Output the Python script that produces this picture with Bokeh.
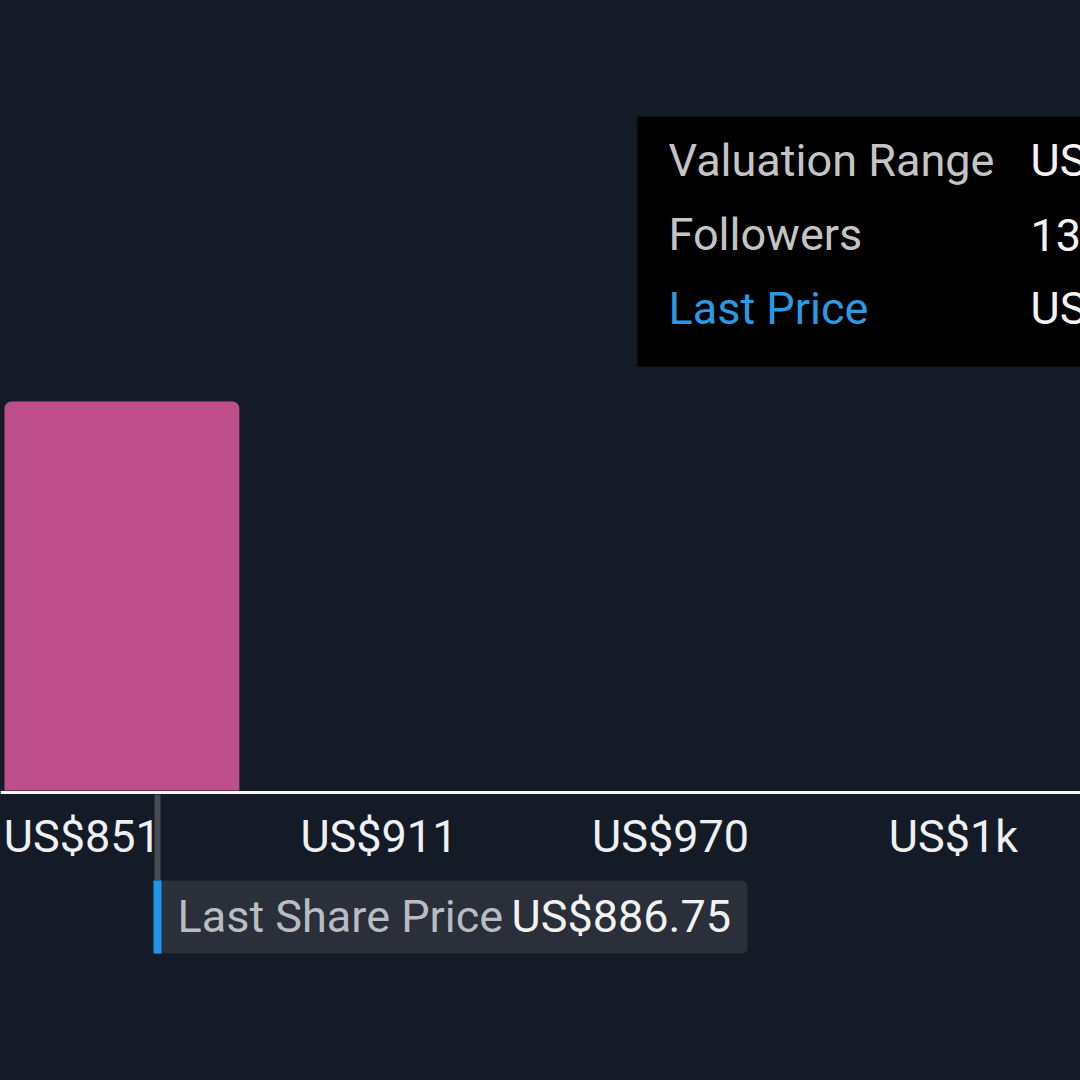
from bokeh.plotting import figure
from bokeh.models import Range1d, Span, LabelSet, ColumnDataSource, GlobalInlineStyleSheet
from bokeh.core.properties import value
from bokeh.embed import file_html
from bokeh.resources import INLINE

# ---- data ----
tick_values = [851, 911, 970, 1030]
tick_labels = ["US$851", "US$911", "US$970", "US$1k"]
bar_left = [855.8]
bar_right = [903.3]
bar_height = [13]
last_price = 886.75
tooltip_labels = ["Valuation Range", "Followers", "Last Price"]
tooltip_values = ["US$855.8 - US$903.3", "13", "US$886.75"]

# ---- layout helpers (reference-pixel -> data) ----
BG = "#151b26"
FONT = value("Roboto")
FS = "45px"
K = 295 / ((tick_values[-1] - tick_values[0]) / 3)   # px per dollar
KY = 389 / bar_height[0]                              # px per unit


def xs(ref):
    return last_price + (ref - 157) / K


def yv(ref):
    return (790 - ref) / KY


p = figure(width=1080, height=1080, output_backend="svg", toolbar_location=None,
           x_axis_type=None, y_axis_type=None,
           x_range=Range1d(xs(0), xs(1080)), y_range=Range1d(yv(1080), yv(0)),
           min_border=0, outline_line_color=None,
           background_fill_color=BG, border_fill_color=BG)
p.stylesheets = [GlobalInlineStyleSheet(
    css="html,body{background-color:#151b26;margin:0;padding:0;overflow:hidden;}")]

# bar
p.quad(left=bar_left, right=bar_right, bottom=0, top=bar_height,
       fill_color="#bd4e89", line_color=None, border_radius=(7, 7, 0, 0))

# axis line
p.add_layout(Span(location=yv(792), dimension="width", line_color="#f4f4f4", line_width=3))

# tick labels
tick_src = ColumnDataSource(dict(x=tick_values, y=[yv(836)] * len(tick_values), text=tick_labels))
p.add_layout(LabelSet(x="x", y="y", text="text", source=tick_src, x_offset=23,
                      text_align="left", text_baseline="middle", text_font=FONT,
                      text_font_size=FS, text_color="#eef0f3"))

# last share price marker
p.segment(x0=[last_price], y0=[yv(794)], x1=[last_price], y1=[yv(880)],
          line_color="#474c55", line_width=6)
p.quad(left=[last_price], right=[xs(747)], bottom=[yv(953)], top=[yv(880)],
       fill_color="#2a2f39", line_color=None, border_radius=(0, 6, 6, 0))
p.segment(x0=[last_price], y0=[yv(880)], x1=[last_price], y1=[yv(953)],
          line_color="#2196e8", line_width=8)
p.text(x=[last_price], y=[yv(916)], text=["Last Share Price"], x_offset=20,
       text_font=FONT, text_font_size=FS, text_color="#b9bcc1", text_baseline="middle")
p.text(x=[last_price], y=[yv(916)], text=[f"US${last_price:.2f}"], x_offset=354,
       text_font=FONT, text_font_size=FS, text_color="#f2f2f2", text_baseline="middle")

# tooltip
p.quad(left=[xs(637)], right=[xs(1100)], top=[yv(116)], bottom=[yv(366)],
       fill_color="#000000", line_color=None)
row_y = [yv(160), yv(234), yv(308)]
p.text(x=[xs(637)] * 3, y=row_y, text=tooltip_labels, x_offset=31,
       text_font=FONT, text_font_size=FS,
       text_color=["#c4c4c4", "#c4c4c4", "#2a9be3"], text_baseline="middle")
p.text(x=[xs(637)] * 3, y=row_y, text=tooltip_values, x_offset=393,
       text_font=FONT, text_font_size=FS, text_color="#f2f2f2", text_baseline="middle")

open("out.html", "w").write(file_html(p, INLINE))
